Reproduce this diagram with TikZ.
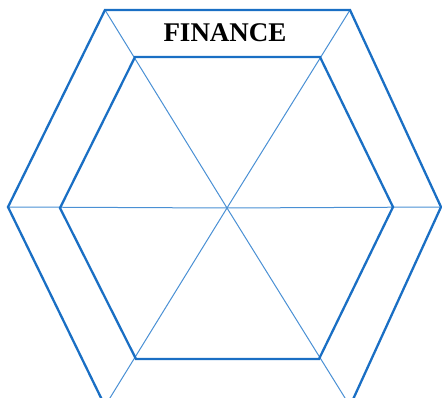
\documentclass[tikz,border=0pt]{standalone}
\usepackage{fontspec}
\setmainfont{Liberation Serif}
\usetikzlibrary{positioning, calc}
\definecolor{hexblue}{HTML}{1A6FC4}
\definecolor{spokeblue}{HTML}{4A90D4}
\tikzset{
  rim/.style    = {draw=hexblue, line width=2.3pt, line join=miter},
  spoke/.style  = {draw=spokeblue, line width=1pt},
  title/.style  = {font=\bfseries\fontsize{27}{30}\selectfont, inner sep=0pt, text=black},
}

\begin{document}
\begin{tikzpicture}[x=1pt, y=-1pt]
  \useasboundingbox (0,0) rectangle (442,398);
  \clip (0,0) rectangle (442,398);

  % outer ring
  \coordinate (ctr) at (227,208);
  \coordinate (o1) at (105,10);
  \coordinate (o2) at (350,10);
  \coordinate (o3) at (441,207);
  \coordinate (o4) at (350,406);
  \coordinate (o5) at (105,406);
  \coordinate (o6) at (8,207);

  % inner ring
  \coordinate (i1) at (135,57);
  \coordinate (i2) at (320,57);
  \coordinate (i3) at (393,207);
  \coordinate (i4) at (319,359);
  \coordinate (i5) at (136,359);
  \coordinate (i6) at (60,208);

  % spokes from the centre
  \foreach \v in {o1, o2, o3, o4, o5, o6}
    \draw[spoke] (ctr) -- (\v);

  \draw[rim] (o1) -- (o2) -- (o3) -- (o4) -- (o5) -- (o6) -- cycle;
  \draw[rim] (i1) -- (i2) -- (i3) -- (i4) -- (i5) -- (i6) -- cycle;

  \node[title] (fin) at (225,33) {FINANCE};
\end{tikzpicture}
\end{document}
